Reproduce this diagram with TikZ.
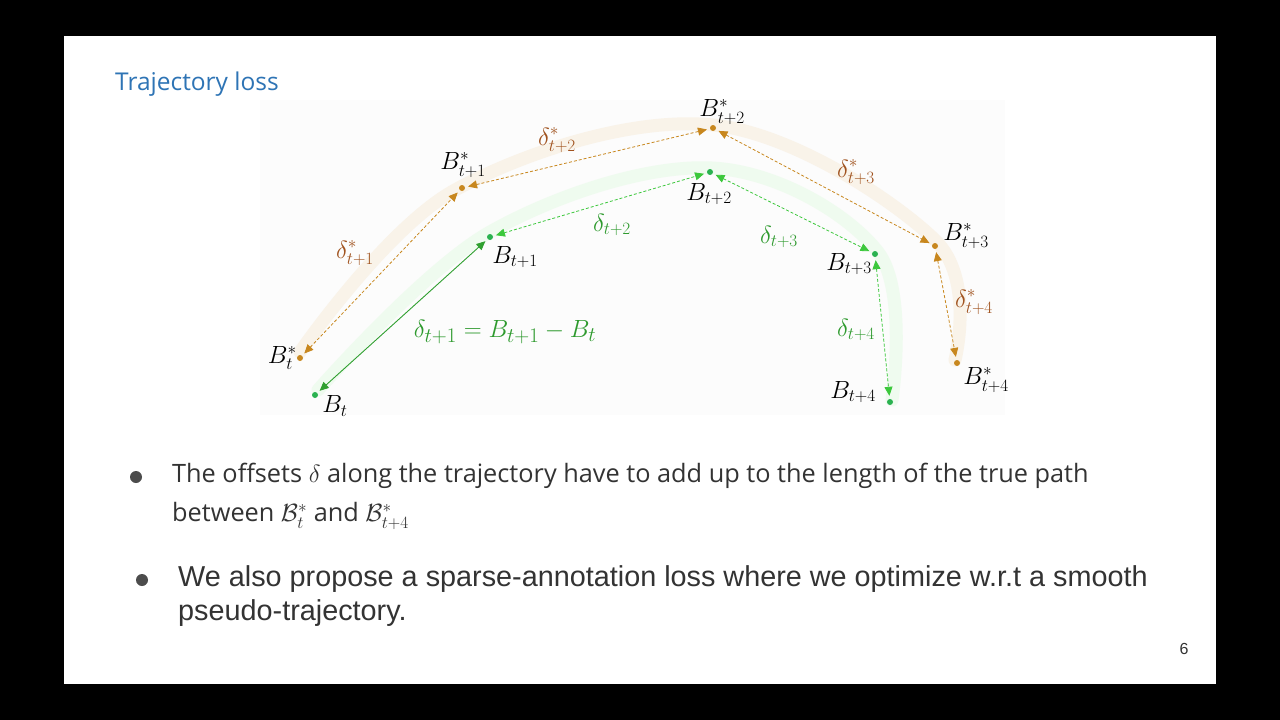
\documentclass[tikz,border=0pt]{standalone}
\usepackage{fontspec}
\setmainfont{Open Sans}
\newfontfamily\arialf{Liberation Sans}
\usetikzlibrary{arrows.meta}
\definecolor{orn}{HTML}{C8871E}
\definecolor{ornt}{HTML}{A0521E}
\definecolor{grn}{HTML}{3CC83C}
\definecolor{grnt}{HTML}{2E9A2E}
\definecolor{titleblue}{HTML}{2E74B5}
\begin{document}
\begin{tikzpicture}[x=1pt,y=-1pt,
  ml/.style={font=\fontsize{27}{29}\selectfont, inner sep=1pt},
  ostar/.style={orn, dashed, dash pattern=on 3pt off 2pt, line width=0.8pt, {Triangle[length=9pt,width=8pt]}-{Triangle[length=9pt,width=8pt]}, shorten <=3pt, shorten >=3pt},
  gdash/.style={grn, dashed, dash pattern=on 3pt off 2pt, line width=0.8pt, {Triangle[length=9pt,width=8pt]}-{Triangle[length=9pt,width=8pt]}, shorten <=3pt, shorten >=3pt},
  gsolid/.style={grn!80!black, line width=0.9pt, {Triangle[length=9pt,width=8pt]}-{Triangle[length=9pt,width=8pt]}, shorten <=3pt, shorten >=3pt},
  odot/.style={circle, fill=orn, inner sep=0pt, minimum size=6pt},
  gdot/.style={circle, fill=grn!70!teal, inner sep=0pt, minimum size=6pt}]
\fill[black] (0,0) rectangle (1280,720);
\fill[white] (64,36) rectangle (1216,684);
\useasboundingbox (0,0) rectangle (1280,720);
\fill[black!1] (260,100) rectangle (1005,415);
% faint trajectories
\draw[orn!10, line width=13pt, line cap=round] plot[smooth, tension=0.6] coordinates {(300,352) (455,190) (713,125) (935,240) (955,360)};
\draw[grn!8, line width=13pt, line cap=round] plot[smooth, tension=0.6] coordinates {(318,390) (490,232) (712,168) (878,252) (892,400)};
% points
\node[odot] (S0) at (300,358) {};
\node[odot] (S1) at (462,188) {};
\node[odot] (S2) at (713,128) {};
\node[odot] (S3) at (935,246) {};
\node[odot] (S4) at (957,363) {};
\node[gdot] (G0) at (315,395) {};
\node[gdot] (G1) at (490,237) {};
\node[gdot] (G2) at (710,172) {};
\node[gdot] (G3) at (875,254) {};
\node[gdot] (G4) at (890,402) {};
% arrows
\draw[ostar] (S0) -- (S1);
\draw[ostar] (S1) -- (S2);
\draw[ostar] (S2) -- (S3);
\draw[ostar] (S3) -- (S4);
\draw[gsolid] (G0) -- (G1);
\draw[gdash] (G1) -- (G2);
\draw[gdash] (G2) -- (G3);
\draw[gdash] (G3) -- (G4);
% labels
\node[ml, anchor=east] (lS0) at (298,358) {$B^*_t$};
\node[ml] (lS1) at (463,165) {$B^*_{t+1}$};
\node[ml] (lS2) at (722,112) {$B^*_{t+2}$};
\node[ml] (lS3) at (966,236) {$B^*_{t+3}$};
\node[ml] (lS4) at (986,380) {$B^*_{t+4}$};
\node[ml] (lG0) at (335,406) {$B_t$};
\node[ml] (lG1) at (515,257) {$B_{t+1}$};
\node[ml] (lG2) at (709,194) {$B_{t+2}$};
\node[ml] (lG3) at (849,264) {$B_{t+3}$};
\node[ml] (lG4) at (853,392) {$B_{t+4}$};
\node[ml, text=ornt] (d1) at (355,253) {$\delta^*_{t+1}$};
\node[ml, text=ornt] (d2) at (557,140) {$\delta^*_{t+2}$};
\node[ml, text=ornt] (d3) at (856,172) {$\delta^*_{t+3}$};
\node[ml, text=ornt] (d4) at (974,302) {$\delta^*_{t+4}$};
\node[ml, text=grnt] (e2) at (612,225) {$\delta_{t+2}$};
\node[ml, text=grnt] (e3) at (779,237) {$\delta_{t+3}$};
\node[ml, text=grnt] (e4) at (856,330) {$\delta_{t+4}$};
\node[ml, text=grnt, font=\fontsize{32.5}{34}\selectfont] (e1) at (505,332) {$\delta_{t+1} = B_{t+1} - B_t$};
% title and text
\node[anchor=west, text=titleblue, font=\fontsize{24.5}{27}\selectfont, inner sep=0pt] (title) at (115,84) {Trajectory loss};
\node[circle, fill=black!70, inner sep=0pt, minimum size=12pt] (b1) at (136,477) {};
\node[anchor=west, text=black!80, font=\fontsize{25.3}{28}\selectfont, inner sep=0pt] (t1) at (172,476) {The offsets $\delta$ along the trajectory have to add up to the length of the true path};
\node[anchor=west, text=black!80, font=\fontsize{25.3}{28}\selectfont, inner sep=0pt] (t2) at (172,516) {between $\mathcal{B}^{*}_{t}$ and $\mathcal{B}^{*}_{t+4}$};
\node[circle, fill=black!70, inner sep=0pt, minimum size=12pt] (b2) at (142,580) {};
\node[anchor=west, text=black!80, font=\arialf\fontsize{28.8}{34}\selectfont, inner sep=0pt, align=left] (t3) at (178,596) {We also propose a sparse-annotation loss where we optimize w.r.t a smooth\\pseudo-trajectory.};
\node[font=\arialf\fontsize{16}{18}\selectfont, text=black!80] (pg) at (1184,649) {6};
\end{tikzpicture}
\end{document}
